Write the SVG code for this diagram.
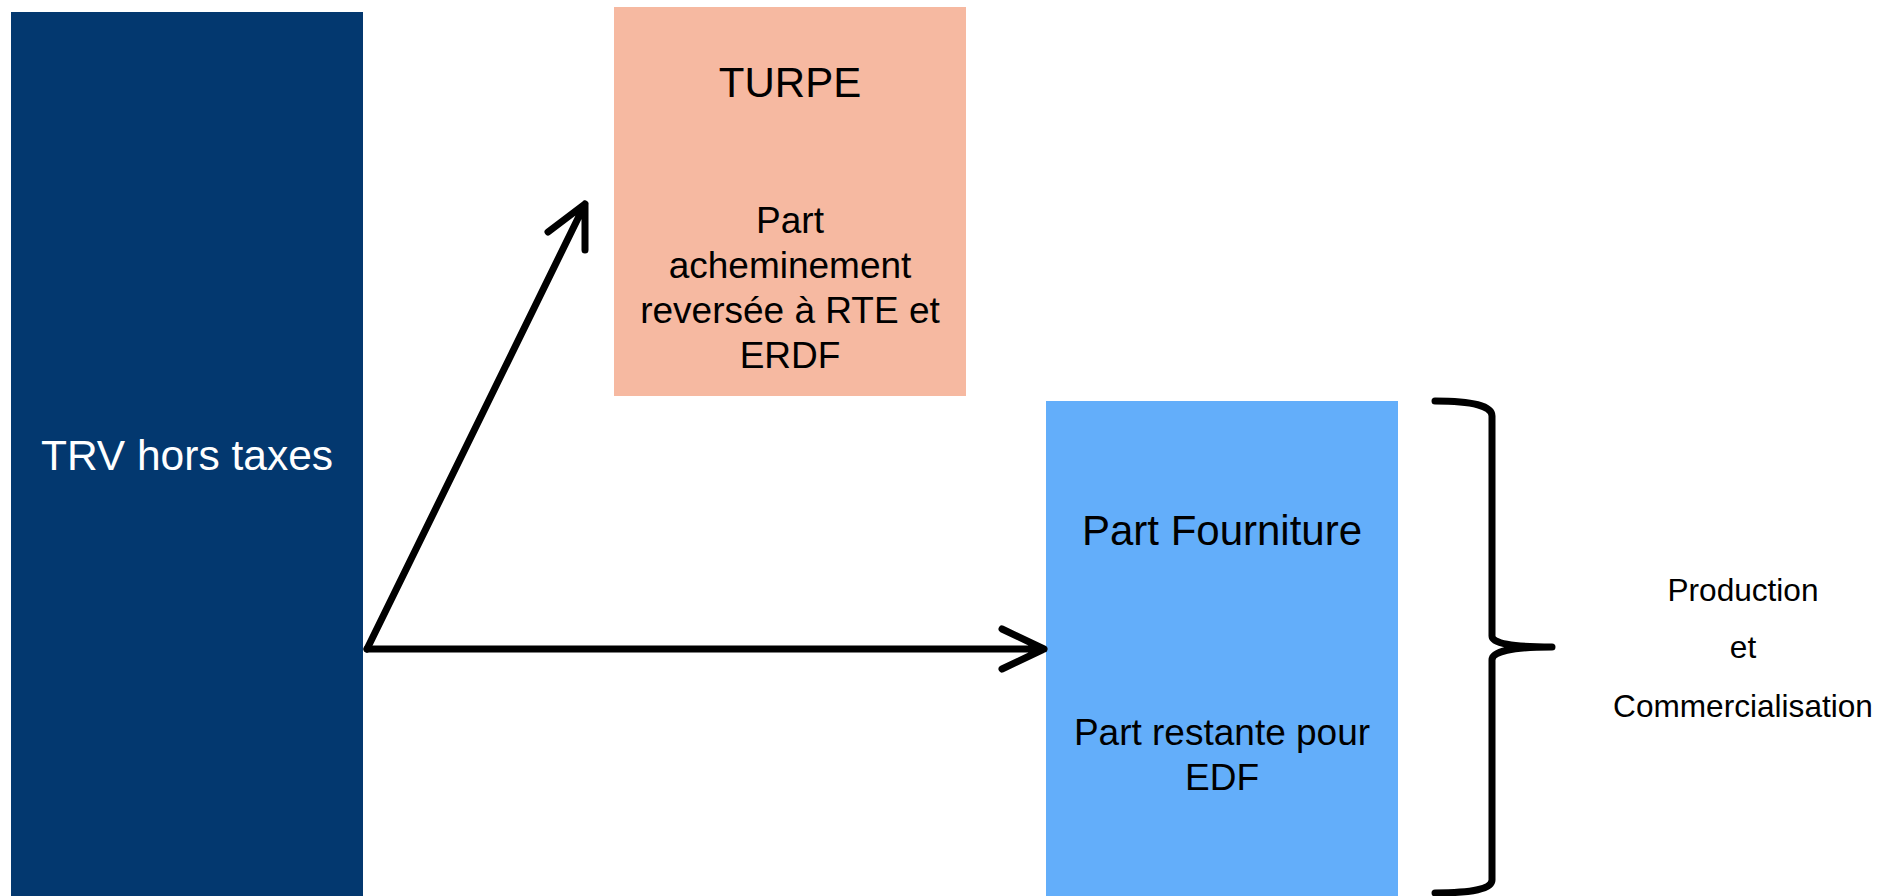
<svg xmlns="http://www.w3.org/2000/svg" width="1897" height="896" viewBox="0 0 1897 896">
<style>
text{font-family:"Liberation Sans",Arial,sans-serif;text-anchor:middle;fill:#000}
.w{fill:#fff}
.c{fill:none;stroke:#000;stroke-width:7;stroke-linecap:round;stroke-linejoin:round}
</style>
<rect width="1897" height="896" fill="#fff"/>
<g id="trv">
<rect x="11" y="12" width="352" height="884" fill="#03386F"/>
<text class="w" x="187" y="470" font-size="42.5">TRV hors taxes</text>
</g>
<g id="turpe">
<rect x="614" y="7" width="352" height="389" fill="#F6B9A1"/>
<text x="790" y="97" font-size="42">TURPE</text>
<text x="790" y="233" font-size="37">Part</text>
<text x="790" y="278" font-size="37">acheminement</text>
<text x="790" y="323" font-size="37">reversée à RTE et</text>
<text x="790" y="368" font-size="37">ERDF</text>
</g>
<g id="fourniture">
<rect x="1046" y="401" width="352" height="495" fill="#63AEFA"/>
<text x="1222" y="545" font-size="42">Part Fourniture</text>
<text x="1222" y="745" font-size="37">Part restante pour</text>
<text x="1222" y="790" font-size="37">EDF</text>
</g>
<g id="connectors">
<path class="c" d="M367,649 L585,204 M548,232 L585,204 L585,250"/>
<path class="c" d="M367,649 L1044,649 M1002,629 L1044,649 L1002,669"/>
<path class="c" d="M1435,401 Q1492,401 1492,416 L1492,636 Q1492,647 1552,647 Q1492,647 1492,660 L1492,880 Q1492,893 1435,893"/>
</g>
<g id="label">
<text x="1743" y="601" font-size="31.6">Production</text>
<text x="1743" y="658" font-size="31.6">et</text>
<text x="1743" y="717" font-size="31.6">Commercialisation</text>
</g>
</svg>
